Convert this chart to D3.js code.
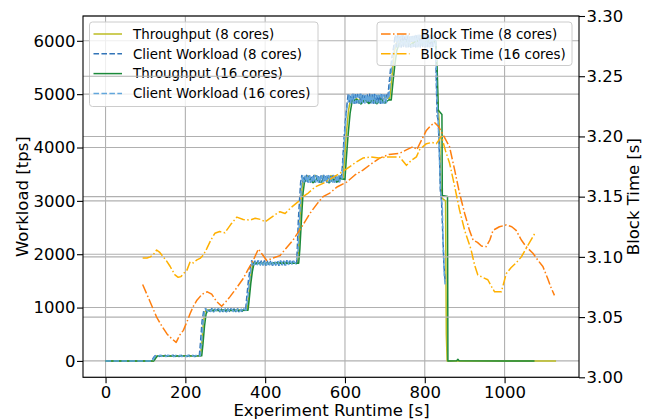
<!DOCTYPE html>
<html>
<head>
<meta charset="utf-8">
<script src="https://cdn.jsdelivr.net/npm/d3@7"></script>
<style>
body { margin: 0; background: #fff; }
svg { font-family: "DejaVu Sans", sans-serif; }
</style>
</head>
<body>
<svg id="chart" width="655" height="420"></svg>
<script>
var xTicks = [0, 200, 400, 600, 800, 1000];
var workloadTicks = [0, 1000, 2000, 3000, 4000, 5000, 6000];
var blockTicks = [3.00, 3.05, 3.10, 3.15, 3.20, 3.25, 3.30];

var leftLabels = ["Throughput (8 cores)", "Client Workload (8 cores)", "Throughput (16 cores)", "Client Workload (16 cores)"];
var rightLabels = ["Block Time (8 cores)", "Block Time (16 cores)"];

// [runtime s, tps]
var throughput8 = [
  [0,0],[120,0],[124,50],[128,92],[180,95],[238,94],
  [241,300],[245,700],[249,920],[254,955],[290,948],[330,955],[355,950],
  [358,1150],[362,1450],[366,1700],[370,1840],[400,1830],[440,1840],[481,1832],
  [484,2100],[488,2700],[492,3200],[496,3420],[505,3470],[515,3390],[525,3480],[535,3380],[545,3465],[555,3385],[565,3475],[575,3390],[585,3460],[595,3410],
  [599,3800],[604,4300],[609,4700],[614,4900],[624,4960],[634,4870],[644,4970],[654,4880],[664,4965],[674,4875],[684,4975],[694,4885],[704,4960],[712,4910],
  [716,5200],[720,5500],[724,5800],[729,5960],[740,6060],[750,5940],[760,6070],[770,5950],[780,6060],[790,5945],[800,6075],[810,5950],[820,6050],[828,5990],
  [832,4900],[836,4500],[840,3300],[843,3050],[852,3000],[854,500],[856,0],[900,0],[1000,0],[1129,0]
];

var client8 = [
  [0,0],[40,0],[80,0],[116,0],[120,60],[124,95],[129,108],[134,83],[139,105],[144,82],[149,106],[154,84],[159,103],[164,80],[169,107],[174,83],[179,104],[184,81],[189,106],[194,85],[199,103],[204,82],[209,107],[214,84],[219,104],[224,80],[229,106],[235,95],
  [238,350],[242,750],[246,935],
  [250,978],[254,924],[258,974],[262,927],[266,979],[270,922],[274,972],[278,929],[282,977],[286,923],[290,975],[294,926],[298,980],[302,921],[306,973],[310,928],[314,977],[318,924],[322,976],[326,925],[330,979],[334,923],[338,974],[342,927],[346,971],[351,952],
  [354,1200],[358,1500],[362,1720],
  [366,1876],[370,1796],[374,1870],[378,1800],[382,1878],[386,1793],[390,1872],[394,1798],[398,1875],[402,1795],[406,1868],[410,1802],[414,1879],[418,1794],[422,1871],[426,1799],[430,1876],[434,1792],[438,1873],[442,1801],[446,1869],[450,1796],[454,1877],[458,1797],[462,1872],[466,1800],[470,1870],[474,1803],[479,1828],
  [481,2200],[483,2600],[486,3000],[489,3350],
  [492,3476],[495,3354],[498,3470],[501,3349],[504,3478],[507,3355],[510,3472],[513,3351],[516,3468],[519,3357],[522,3477],[525,3350],[528,3471],[531,3354],[534,3475],[537,3348],[540,3469],[543,3356],[546,3478],[549,3352],[552,3470],[555,3349],[558,3473],[561,3355],[564,3467],[567,3351],[570,3476],[573,3353],[576,3472],[579,3350],[582,3468],[585,3356],[588,3471],[591,3400],
  [594,3700],[597,4100],[601,4500],[605,4800],
  [608,4995],[611,4832],[614,4990],[617,4836],[620,4998],[623,4829],[626,4989],[629,4838],[632,4993],[635,4831],[638,4999],[641,4834],[644,4987],[647,4830],[650,4996],[653,4837],[656,4990],[659,4828],[662,4997],[665,4835],[668,4991],[671,4831],[674,4994],[677,4833],[680,4988],[683,4836],[686,4998],[689,4830],[692,4991],[695,4834],[698,4986],[701,4838],[704,4985],[707,4900],
  [710,5150],[714,5450],[718,5700],[722,5880],
  [726,6108],[729,5885],[732,6112],[735,5890],[738,6104],[741,5882],[744,6110],[747,5893],[750,6106],[753,5884],[756,6113],[759,5890],[762,6103],[765,5881],[768,6109],[771,5895],[774,6105],[777,5886],[780,6111],[783,5889],[786,6104],[789,5883],[792,6112],[795,5892],[798,6106],[801,5885],[804,6110],[807,5890],[810,6103],[813,5884],[816,6109],[819,5894],[822,6100],[825,5960],[827,6000],
  [829,5200],[831,4600],[834,4500],[837,3800],[839,3200],[842,3000],[845,2400],[848,1800],[851,1480]
];

var throughput16 = [
  [0,0],[121,0],[126,55],[130,92],[180,94],[241,95],
  [244,300],[248,650],[252,880],[256,945],[290,950],[330,944],[357,950],
  [360,1150],[364,1450],[368,1680],[372,1830],[400,1826],[440,1836],[484,1830],
  [487,2100],[491,2650],[495,3150],[499,3380],[510,3410],[520,3340],[530,3420],[540,3350],[550,3425],[560,3338],[570,3415],[580,3355],[590,3420],[600,3400],
  [603,3750],[608,4250],[613,4650],[618,4870],[630,4900],[640,4815],[650,4905],[660,4825],[670,4910],[680,4820],[690,4900],[700,4835],[710,4895],[716,4890],
  [720,5200],[725,5550],[730,5820],[736,5960],[750,6000],[765,5930],[780,6010],[795,5940],[810,6005],[828,5980],
  [831,5500],[834,4700],[843,4620],[844,3100],[857,3080],[858,0],[880,5],[883,30],[886,5],[1000,0],[1075,0]
];

var client16 = [
  [0,0],[40,0],[80,0],[118,0],[122,60],[126,100],[131,82],[136,106],[141,84],[146,104],[151,81],[156,107],[161,85],[166,103],[171,80],[176,106],[181,84],[186,105],[191,82],[196,107],[201,83],[206,104],[211,81],[216,106],[221,85],[226,103],[231,82],[237,96],
  [240,300],[244,700],[248,930],
  [252,975],[256,926],[260,972],[264,929],[268,977],[272,924],[276,970],[280,931],[284,976],[288,925],[292,973],[296,928],[300,978],[304,923],[308,971],[312,930],[316,975],[320,926],[324,974],[328,927],[332,977],[336,925],[340,972],[344,929],[348,969],[352,950],
  [356,1150],[360,1450],[364,1700],
  [368,1872],[372,1798],[376,1868],[380,1802],[384,1875],[388,1795],[392,1870],[396,1800],[400,1873],[404,1797],[408,1866],[412,1804],[416,1876],[420,1796],[424,1869],[428,1801],[432,1874],[436,1794],[440,1871],[444,1803],[448,1867],[452,1798],[456,1875],[460,1799],[464,1870],[468,1802],[472,1868],[476,1830],
  [482,2000],[485,2500],[488,2900],[491,3300],
  [494,3472],[497,3352],[500,3468],[503,3356],[506,3475],[509,3350],[512,3470],[515,3358],[518,3466],[521,3351],[524,3474],[527,3355],[530,3469],[533,3349],[536,3473],[539,3357],[542,3467],[545,3352],[548,3476],[551,3354],[554,3468],[557,3350],[560,3471],[563,3356],[566,3465],[569,3353],[572,3474],[575,3351],[578,3470],[581,3357],[584,3466],[587,3355],[590,3462],[593,3420],
  [596,3800],[600,4300],[604,4700],[608,4850],
  [611,4992],[614,4834],[617,4988],[620,4838],[623,4995],[626,4831],[629,4986],[632,4840],[635,4990],[638,4833],[641,4996],[644,4836],[647,4985],[650,4832],[653,4993],[656,4839],[659,4987],[662,4830],[665,4994],[668,4837],[671,4989],[674,4833],[677,4991],[680,4835],[683,4986],[686,4838],[689,4995],[692,4832],[695,4988],[698,4836],[701,4984],[704,4840],[707,4970],[710,4920],
  [713,5200],[717,5500],[721,5750],[725,5900],
  [729,6100],[732,5888],[735,6105],[738,5892],[741,6098],[744,5885],[747,6108],[750,5895],[753,6100],[756,5887],[759,6104],[762,5893],[765,6097],[768,5884],[771,6106],[774,5896],[777,6101],[780,5889],[783,6103],[786,5891],[789,6099],[792,5886],[795,6107],[798,5894],[801,6102],[804,5888],[807,6104],[810,5892],[813,6098],[816,5886],[819,6106],[822,5895],[825,6080],[828,5990],
  [830,5000],[833,4600],[836,4000],[839,3300],[841,3050],[844,2900],[846,2200],[849,1600],[851,1420]
];

// [runtime s, block time s]
var block8 = [
  [93,3.077],[110,3.064],[128,3.050],[142,3.042],[154,3.036],[166,3.032],[177,3.029],[186,3.035],[195,3.039],[204,3.046],[212,3.053],[220,3.059],[229,3.064],[242,3.069],[255,3.071],[266,3.069],[278,3.063],[291,3.059],[302,3.063],[312,3.067],[328,3.074],[345,3.082],[358,3.090],[370,3.097],[383,3.1065],[393,3.102],[404,3.097],[420,3.099],[437,3.101],[452,3.107],[470,3.114],[490,3.124],[512,3.136],[530,3.144],[545,3.150],[562,3.153],[580,3.158],[604,3.162],[625,3.168],[645,3.172],[665,3.177],[687,3.182],[710,3.185],[737,3.186],[755,3.189],[771,3.1915],[780,3.189],[792,3.197],[804,3.205],[815,3.209],[825,3.2114],[835,3.208],[848,3.200],[862,3.1915],[875,3.172],[887,3.153],[900,3.136],[912,3.122],[921,3.114],[932,3.112],[942,3.109],[954,3.1085],[963,3.114],[971,3.122],[987,3.125],[1004,3.1265],[1018,3.125],[1029,3.122],[1042,3.114],[1054,3.1085],[1071,3.103],[1084,3.097],[1096,3.092],[1108,3.082],[1117,3.074],[1125,3.068]
];

var block16 = [
  [93,3.099],[104,3.099],[112,3.100],[120,3.102],[128,3.1057],[135,3.104],[141,3.1015],[152,3.097],[162,3.092],[174,3.085],[182,3.083],[189,3.0836],[198,3.087],[204,3.089],[212,3.096],[220,3.095],[229,3.0975],[238,3.099],[245,3.1015],[254,3.107],[264,3.114],[274,3.1196],[286,3.121],[299,3.120],[314,3.127],[329,3.133],[345,3.131],[362,3.1306],[375,3.132],[390,3.131],[400,3.129],[412,3.132],[425,3.135],[437,3.1375],[450,3.136],[465,3.141],[483,3.1458],[495,3.150],[508,3.153],[525,3.158],[545,3.161],[565,3.165],[585,3.169],[604,3.173],[625,3.178],[645,3.182],[665,3.183],[685,3.182],[704,3.183],[720,3.183],[737,3.183],[754,3.176],[766,3.180],[779,3.183],[787,3.189],[804,3.194],[818,3.195],[829,3.194],[842,3.200],[852,3.188],[862,3.178],[874,3.160],[887,3.139],[900,3.122],[916,3.106],[925,3.093],[933,3.085],[945,3.083],[958,3.081],[966,3.076],[975,3.071],[984,3.071],[992,3.071],[1004,3.086],[1016,3.091],[1029,3.095],[1042,3.100],[1054,3.107],[1066,3.114],[1075,3.119]
];

var svg = d3.select("#chart");
var L = 83, R = 579, T = 16, B = 377.3;
var fontTick = 16.5, fontLegend = 13.4;

var x = d3.scaleLinear().domain([-56.5, 1186.5]).range([L, R]);
var yLeft = d3.scaleLinear().domain([-307, 6465]).range([B, T]);
var yRight = d3.scaleLinear().domain([3.0, 3.3]).range([B, T]);

svg.append("defs").append("clipPath").attr("id", "plot")
  .append("rect").attr("x", L).attr("y", T).attr("width", R - L).attr("height", B - T);

var gridColor = "#b0b0b0";

// left axes grid
var g1 = svg.append("g");
g1.selectAll("line.vgrid").data(xTicks).enter().append("line")
  .attr("x1", function(d) { return x(d); }).attr("x2", function(d) { return x(d); })
  .attr("y1", T).attr("y2", B)
  .style("stroke", gridColor).style("stroke-width", 1.1);
g1.selectAll("line.hgrid").data(workloadTicks).enter().append("line")
  .attr("x1", L).attr("x2", R)
  .attr("y1", function(d) { return yLeft(d); }).attr("y2", function(d) { return yLeft(d); })
  .style("stroke", gridColor).style("stroke-width", 1.1);

var leftSeries = [
  { data: throughput8, color: "#bcbd22", dash: null },
  { data: client8, color: "#3274b8", dash: "5.55,2.4" },
  { data: throughput16, color: "#1b8a3a", dash: null },
  { data: client16, color: "#62a6dc", dash: "5.55,2.4" }
];
var rightSeries = [
  { data: block8, color: "#ff7f0e", dash: "9.6,2.4,1.5,2.4" },
  { data: block16, color: "#ffb000", dash: "9.6,2.4,1.5,2.4" }
];

var lineLeft = d3.line()
  .x(function(d) { return x(d[0]); })
  .y(function(d) { return yLeft(d[1]); });
var lineRight = d3.line()
  .x(function(d) { return x(d[0]); })
  .y(function(d) { return yRight(d[1]); });

var gLines1 = svg.append("g").attr("clip-path", "url(#plot)");
leftSeries.forEach(function(s) {
  gLines1.append("path")
    .attr("d", lineLeft(s.data))
    .style("fill", "none")
    .style("stroke", s.color)
    .style("stroke-width", 1.5)
    .style("stroke-linejoin", "round")
    .style("stroke-dasharray", s.dash);
});

var drawLegend = function(g, bx, by, bw, bh, series, labels) {
  g.append("rect")
    .attr("x", bx).attr("y", by).attr("width", bw).attr("height", bh)
    .attr("rx", 3)
    .style("fill", "#fff").style("fill-opacity", 0.8)
    .style("stroke", "#cccccc").style("stroke-width", 1);
  series.forEach(function(s, i) {
    var ry = by + 12 + i * 19.8;
    g.append("line")
      .attr("x1", bx + 4).attr("x2", bx + 32.5)
      .attr("y1", ry).attr("y2", ry)
      .style("stroke", s.color).style("stroke-width", 1.5)
      .style("stroke-dasharray", s.dash);
    g.append("text")
      .attr("x", bx + 43.5).attr("y", ry + 4.7)
      .style("font-size", fontLegend + "px")
      .style("fill", "#000")
      .text(labels[i]);
  });
}

drawLegend(svg.append("g"), 89.5, 22, 228.5, 84.5, leftSeries, leftLabels);

// right axes grid sits above the left axes content
var g2 = svg.append("g");
g2.selectAll("line").data(blockTicks).enter().append("line")
  .attr("x1", L).attr("x2", R)
  .attr("y1", function(d) { return yRight(d); }).attr("y2", function(d) { return yRight(d); })
  .style("stroke", gridColor).style("stroke-width", 1.1);

var gLines2 = svg.append("g").attr("clip-path", "url(#plot)");
rightSeries.forEach(function(s) {
  gLines2.append("path")
    .attr("d", lineRight(s.data))
    .style("fill", "none")
    .style("stroke", s.color)
    .style("stroke-width", 1.5)
    .style("stroke-linejoin", "round")
    .style("stroke-dasharray", s.dash);
});

drawLegend(svg.append("g"), 377, 22, 195, 43.5, rightSeries, rightLabels);

// frame
svg.append("rect")
  .attr("x", L).attr("y", T).attr("width", R - L).attr("height", B - T)
  .style("fill", "none").style("stroke", "#000").style("stroke-width", 1.1);

var styleAxis = function(g) {
  g.select(".domain").remove();
  g.attr("font-size", fontTick).attr("font-family", "DejaVu Sans, sans-serif").style("color", "#000");
  g.selectAll(".tick line").style("stroke-width", 1.1);
}

svg.append("g").attr("transform", "translate(0," + B + ")")
  .call(d3.axisBottom(x).tickValues(xTicks).tickSize(6).tickPadding(2.5).tickSizeOuter(0).tickFormat(d3.format("d")))
  .call(styleAxis);
svg.append("g").attr("transform", "translate(" + L + ",0)")
  .call(d3.axisLeft(yLeft).tickValues(workloadTicks).tickSize(6).tickPadding(1.5).tickSizeOuter(0).tickFormat(d3.format("d")))
  .call(styleAxis);
svg.append("g").attr("transform", "translate(" + R + ",0)")
  .call(d3.axisRight(yRight).tickValues(blockTicks).tickSize(6).tickPadding(1.5).tickSizeOuter(0).tickFormat(d3.format(".2f")))
  .call(styleAxis);

svg.append("text")
  .attr("transform", "translate(22," + ((T + B) / 2) + ") rotate(-90)")
  .attr("text-anchor", "middle").attr("dy", "0.35em")
  .style("font-size", fontTick + "px")
  .text("Workload [tps]");
svg.append("text")
  .attr("transform", "translate(633," + ((T + B) / 2) + ") rotate(-90)")
  .attr("text-anchor", "middle").attr("dy", "0.35em")
  .style("font-size", fontTick + "px")
  .text("Block Time [s]");
svg.append("text")
  .attr("x", (L + R) / 2 + 0.5).attr("y", 416)
  .attr("text-anchor", "middle")
  .style("font-size", fontTick + "px")
  .text("Experiment Runtime [s]");
</script>
</body>
</html>
